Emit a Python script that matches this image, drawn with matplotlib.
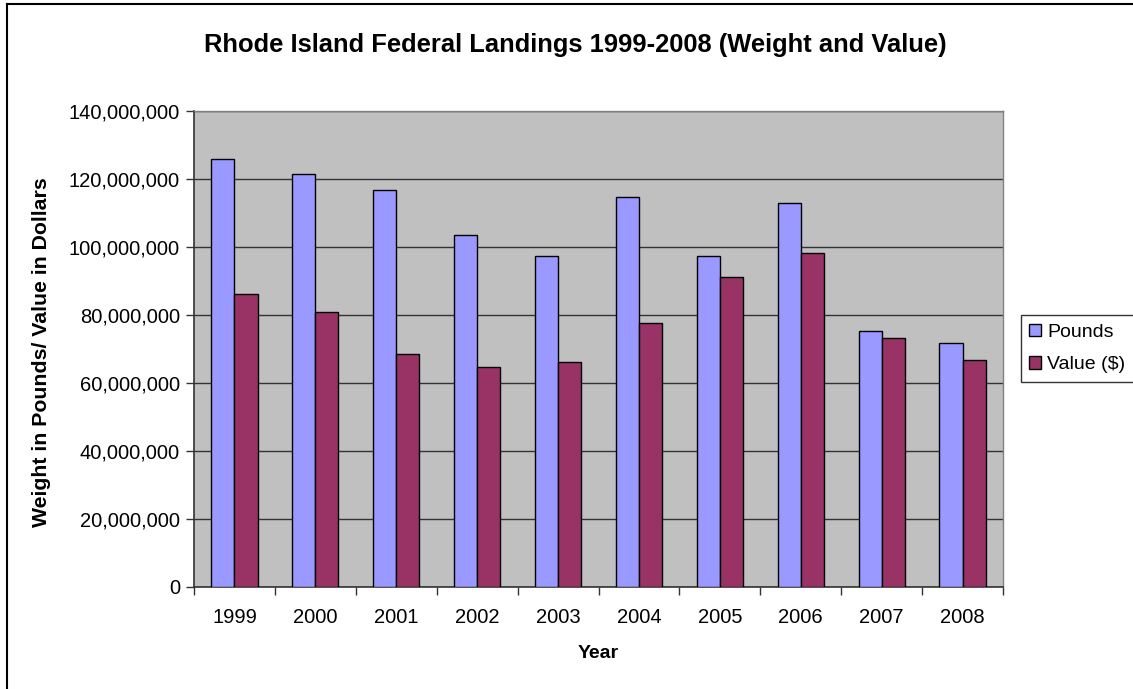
import matplotlib
matplotlib.use("Agg")
import matplotlib.pyplot as plt
import numpy as np
from matplotlib.patches import Patch
from matplotlib.lines import Line2D
from matplotlib.ticker import FuncFormatter, FixedLocator

plt.rcParams['font.family'] = ['Liberation Sans', 'DejaVu Sans']

years = ['1999', '2000', '2001', '2002', '2003', '2004', '2005', '2006', '2007', '2008']
pounds = [125.7e6, 121.5e6, 116.8e6, 103.4e6, 97.4e6, 114.7e6, 97.4e6, 112.9e6, 75.2e6, 71.8e6]
value = [86.1e6, 80.8e6, 68.5e6, 64.7e6, 66.2e6, 77.5e6, 91.2e6, 98.2e6, 73.2e6, 66.7e6]

W, H = 1133, 689
fig = plt.figure(figsize=(W / 100, H / 100), dpi=100)
fig.patch.set_facecolor('white')

# figure border (top and left)
fig.add_artist(Line2D([7 / W, 1.0], [1 - 4 / H, 1 - 4 / H], color='black', lw=1.5, transform=fig.transFigure))
fig.add_artist(Line2D([7 / W, 7 / W], [0, 1 - 4 / H], color='black', lw=1.5, transform=fig.transFigure))

left, right, top, bottom = 194, 1003, 110.7, 586.7
ax = fig.add_axes([left / W, 1 - bottom / H, (right - left) / W, (bottom - top) / H])
ax.set_facecolor('#C0C0C0')

x = np.arange(len(years))
bw = 1 / 3.5
ax.bar(x - bw / 2, pounds, width=bw, color='#9999FF', edgecolor='black', linewidth=1, zorder=3)
ax.bar(x + bw / 2, value, width=bw, color='#993366', edgecolor='black', linewidth=1, zorder=3)

ax.set_xlim(-0.5, len(years) - 0.5)
ax.set_ylim(0, 140e6)
ax.yaxis.set_major_locator(FixedLocator(np.arange(0, 140e6 + 1, 20e6)))
ax.yaxis.set_major_formatter(FuncFormatter(lambda v, p: f'{int(v):,}'))
ax.grid(axis='y', color='#333333', linewidth=1, zorder=1)
ax.set_axisbelow(True)

ax.set_xticks(x)
ax.set_xticklabels(years)
ax.set_xticks(np.arange(-0.5, len(years)), minor=True)
ax.tick_params(axis='x', which='major', length=0, pad=15, labelsize=14.5)
ax.tick_params(axis='x', which='minor', length=6, width=1, direction='out', color='#333333')
ax.tick_params(axis='y', length=6, width=1, direction='out', color='#333333', labelsize=14.5, pad=4)

for s in ['top', 'right']:
    ax.spines[s].set_color('#808080')
    ax.spines[s].set_linewidth(1)
ax.spines['left'].set_color('#333333')
ax.spines['bottom'].set_color('#333333')
ax.spines['left'].set_linewidth(1.2)
ax.spines['bottom'].set_linewidth(1.2)

fig.text(575.5 / W, 1 - 45 / H, 'Rhode Island Federal Landings 1999-2008 (Weight and Value)',
         ha='center', va='center', fontsize=18.4, fontweight='bold')
fig.text(42 / W, 1 - 352 / H, 'Weight in Pounds/ Value in Dollars', rotation=90,
         ha='center', va='center', fontsize=15.3, fontweight='bold')
fig.text(598 / W, 1 - 653 / H, 'Year', ha='center', va='center', fontsize=14, fontweight='bold')

handles = [Patch(facecolor='#9999FF', edgecolor='black', label='Pounds'),
           Patch(facecolor='#993366', edgecolor='black', label='Value ($)')]
leg = fig.legend(handles=handles, loc='upper left', bbox_to_anchor=(1020.7 / W, 1 - 315 / H),
                 fontsize=14, frameon=True, fancybox=False, edgecolor='black',
                 handlelength=0.6, handleheight=0.6, handletextpad=0.3, borderpad=0.45,
                 labelspacing=0.8, borderaxespad=0)
leg.get_frame().set_linewidth(1)

fig.savefig('out.png', dpi=100, facecolor='white')
